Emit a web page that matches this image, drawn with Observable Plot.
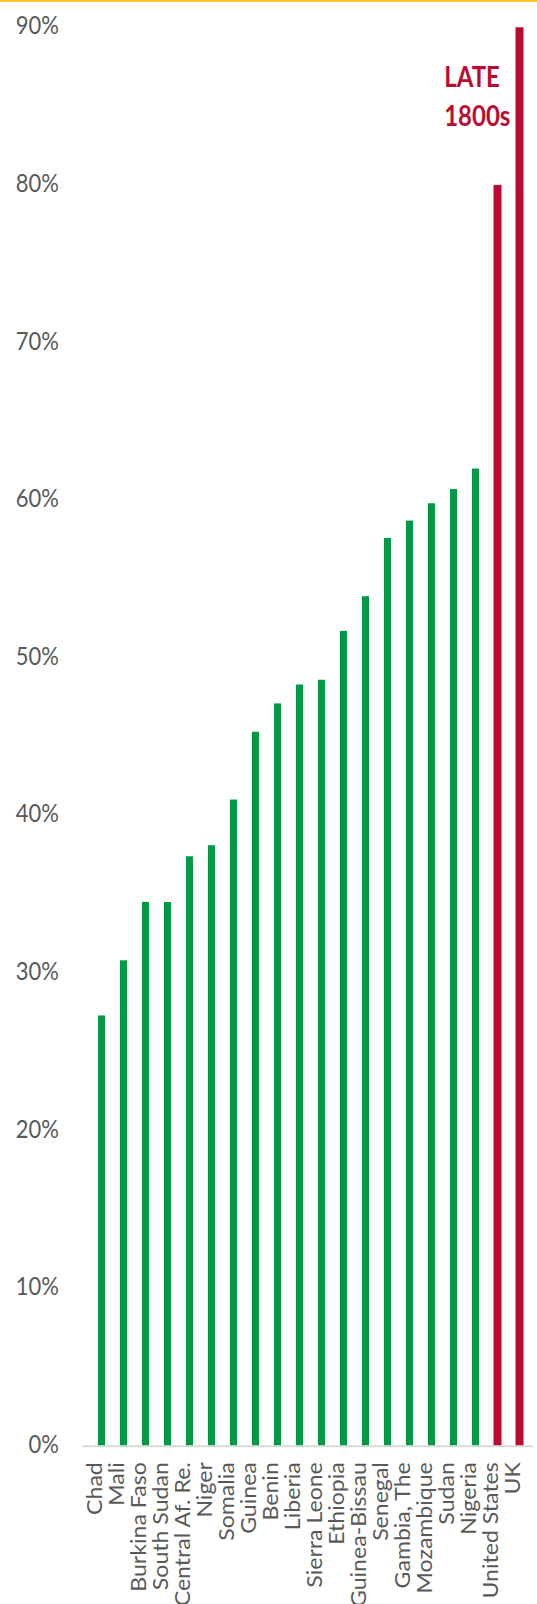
<!DOCTYPE html>
<html>
<head>
<meta charset="utf-8">
<script src="https://cdn.jsdelivr.net/npm/d3@7"></script>
<script src="https://cdn.jsdelivr.net/npm/@observablehq/plot@0.6"></script>
<style>
  html, body { margin: 0; padding: 0; background: #fff; overflow: hidden; }
  #wrap { position: relative; width: 537px; height: 1604px; }
  #topline { position: absolute; left: 0; top: 0; width: 537px; height: 2px; background: #FFC52A; }
  svg { display: block; }
</style>
</head>
<body>
<div id="wrap">
  <div id="chart"></div>
  <div id="topline"></div>
</div>
<script>
// Share of the population (%) by country, sorted from lowest to highest
const countries = [
  "Chad", "Mali", "Burkina Faso", "South Sudan", "Central Af. Re.", "Niger",
  "Somalia", "Guinea", "Benin", "Liberia", "Sierra Leone", "Ethiopia",
  "Guinea-Bissau", "Senegal", "Gambia, The", "Mozambique", "Sudan", "Nigeria",
  "United States", "UK"
];
const shares = [
  27.3, 30.8, 34.5, 34.5, 37.4, 38.1,
  41.0, 45.3, 47.1, 48.3, 48.6, 51.7,
  53.9, 57.6, 58.7, 59.8, 60.7, 62.0,
  80, 90
];
const periods = [
  "Today", "Today", "Today", "Today", "Today", "Today",
  "Today", "Today", "Today", "Today", "Today", "Today",
  "Today", "Today", "Today", "Today", "Today", "Today",
  "Late 1800s", "Late 1800s"
];
const yTicks = [0, 10, 20, 30, 40, 50, 60, 70, 80, 90];
const noteText = "LATE\n1800s";
const noteCountry = "United States";
const noteValue = 90;

const data = countries.map((country, i) => ({country, share: shares[i], period: periods[i]}));

const GREEN = "#009A44";
const RED = "#BA0C30";
const GREY = "#595959";

const chart = Plot.plot({
  width: 537,
  height: 1604,
  marginTop: 27.3,
  marginBottom: 158.3,
  marginLeft: 82.3,
  marginRight: 4,
  style: {fontFamily: "Lato, 'Open Sans', sans-serif", color: GREY, background: "transparent"},
  x: {type: "band", domain: countries, range: [90, 531.5], paddingInner: 0.694, paddingOuter: 0, align: 0.5},
  y: {domain: [0, 90]},
  color: {domain: ["Today", "Late 1800s"], range: [GREEN, RED]},
  marks: [
    Plot.barY(data.filter(d => d.period === "Today"), {x: "country", y: "share", fill: "period"}),
    Plot.barY(data.filter(d => d.period !== "Today"), {x: "country", y: "share", fill: "period", insetLeft: -0.5, insetRight: -0.5}),
    Plot.ruleY([0], {stroke: "#D9D9D9", strokeWidth: 2}),
    Plot.axisY({
      ticks: yTicks, tickFormat: d => d + "%", tickSize: 0, tickPadding: 24,
      fontSize: 22, fill: GREY, label: null, dy: 6.5
    }),
    Plot.axisX({
      tickRotate: -90, tickSize: 0, tickPadding: 16,
      fontSize: 21, fill: GREY, label: null
    }),
    Plot.text([noteText], {
      x: () => noteCountry, y: () => noteValue, text: d => d,
      textAnchor: "start", lineAnchor: "top", lineHeight: 1.4,
      fontSize: 24, fontWeight: "bold", fill: RED,
      dx: -53.8, dy: 32
    })
  ]
});

// The lettering of this chart is drawn tall and narrow: stretch each label
// along its vertical (for rotated labels, its reading) direction.
function stretch(selector, sx, sy) {
  chart.querySelectorAll(selector).forEach(t => {
    const base = t.getAttribute("transform") || "";
    const x = +t.getAttribute("x") || 0, y = +t.getAttribute("y") || 0;
    t.removeAttribute("x"); t.removeAttribute("y");
    t.setAttribute("transform", `${base} translate(${x},${y}) scale(${sx},${sy})`);
  });
}
stretch('[aria-label="y-axis tick label"] text', 1, 1.11);
stretch('[aria-label="x-axis tick label"] text', 1.1, 1);
stretch('[aria-label="text"] text', 1, 1.16);

document.getElementById("chart").append(chart);
</script>
</body>
</html>
